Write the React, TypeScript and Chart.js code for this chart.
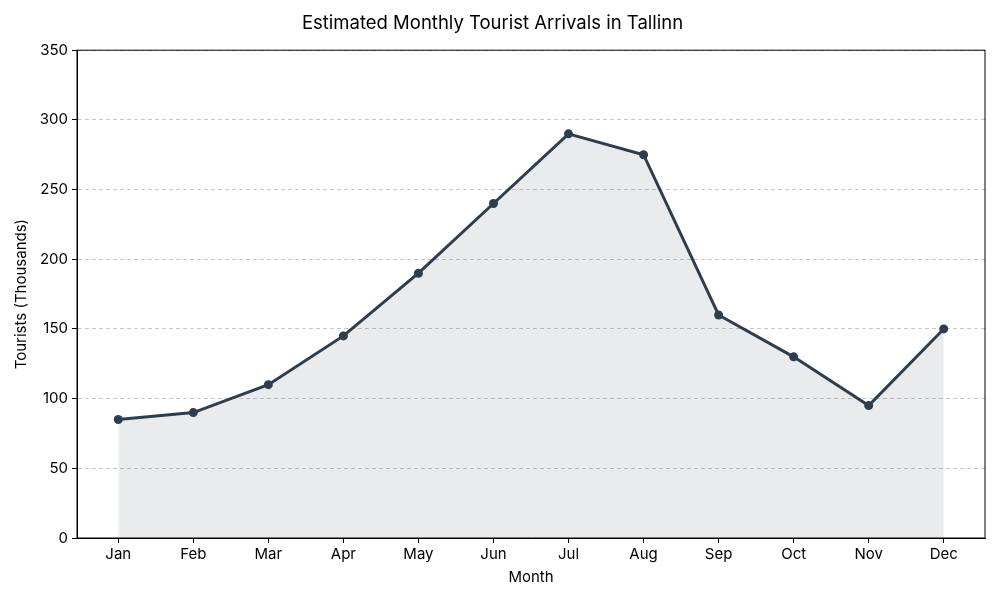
import React, { useEffect, useRef } from "react";
import { Chart, registerables } from "chart.js";

Chart.register(...registerables);

const months = ["Jan", "Feb", "Mar", "Apr", "May", "Jun", "Jul", "Aug", "Sep", "Oct", "Nov", "Dec"];
const tourists = [85, 90, 110, 145, 190, 240, 290, 275, 160, 130, 95, 150];
const yTicks = [0, 50, 100, 150, 200, 250, 300, 350];

const FONT = "Inter, 'Noto Sans', sans-serif";

const framePlugin = {
  id: "frame",
  afterDraw(chart: any) {
    const { ctx, chartArea } = chart;
    ctx.save();
    ctx.strokeStyle = "#000";
    ctx.lineWidth = 1;
    ctx.strokeRect(chartArea.left, chartArea.top, chartArea.right - chartArea.left, chartArea.bottom - chartArea.top);
    ctx.restore();
  },
};

export default function App() {
  const ref = useRef<HTMLCanvasElement>(null);
  useEffect(() => {
    document.body.style.margin = "0";
    const chart = new Chart(ref.current!, {
      type: "line",
      data: {
        datasets: [
          {
            data: tourists.map((v, i) => ({ x: i, y: v })),
            borderColor: "#2c3e50",
            backgroundColor: "rgba(44,62,80,0.1)",
            borderWidth: 3,
            pointRadius: 4.5,
            pointBackgroundColor: "#2c3e50",
            pointBorderColor: "#2c3e50",
            pointBorderWidth: 0,
            fill: "origin",
            tension: 0,
          },
        ],
      },
      options: {
        animation: false,
        responsive: false,
        devicePixelRatio: 1,
        layout: { padding: { left: 0, right: 15, top: 0, bottom: 0 } },
        plugins: {
          legend: { display: false },
          tooltip: { enabled: false },
          title: {
            display: true,
            text: "Estimated Monthly Tourist Arrivals in Tallinn",
            color: "#000",
            font: { family: FONT, size: 18.5, weight: "normal" },
            padding: { top: 12, bottom: 16 },
          },
        },
        scales: {
          x: {
            type: "linear",
            min: -0.55,
            max: 11.55,
            afterBuildTicks(scale: any) {
              scale.ticks = months.map((_, i) => ({ value: i }));
            },
            afterFit(scale: any) {
              scale.height = 62;
            },
            ticks: {
              callback: (v: any) => months[v as number] ?? "",
              color: "#000",
              font: { family: FONT, size: 15 },
              padding: 2,
              maxRotation: 0,
              autoSkip: false,
            },
            grid: { drawOnChartArea: false, drawTicks: true, tickLength: 5, tickColor: "#000", tickWidth: 1 },
            border: { display: true, color: "#000", width: 1 },
            title: {
              display: true,
              text: "Month",
              color: "#000",
              font: { family: FONT, size: 15 },
              padding: { top: 0, bottom: 14 },
            },
          },
          y: {
            min: 0,
            max: 350,
            afterBuildTicks(scale: any) {
              scale.ticks = yTicks.map((v) => ({ value: v }));
            },
            afterFit(scale: any) {
              scale.width = 77;
            },
            ticks: {
              color: "#000",
              font: { family: FONT, size: 15 },
              padding: 4,
            },
            grid: {
              color: "#c8c8c8",
              lineWidth: 1,
              drawTicks: true,
              tickLength: 5,
              tickColor: "#000",
              tickBorderDash: [],
              tickWidth: 1,
            },
            border: { display: true, color: "#000", width: 1, dash: [4, 3] },
            title: {
              display: true,
              text: "Tourists (Thousands)",
              color: "#000",
              font: { family: FONT, size: 15 },
              padding: { top: 12, bottom: 4 },
            },
          },
        },
      },
      plugins: [framePlugin],
    });
    return () => chart.destroy();
  }, []);
  return <canvas ref={ref} width={1000} height={600} style={{ display: "block" }} />;
}
